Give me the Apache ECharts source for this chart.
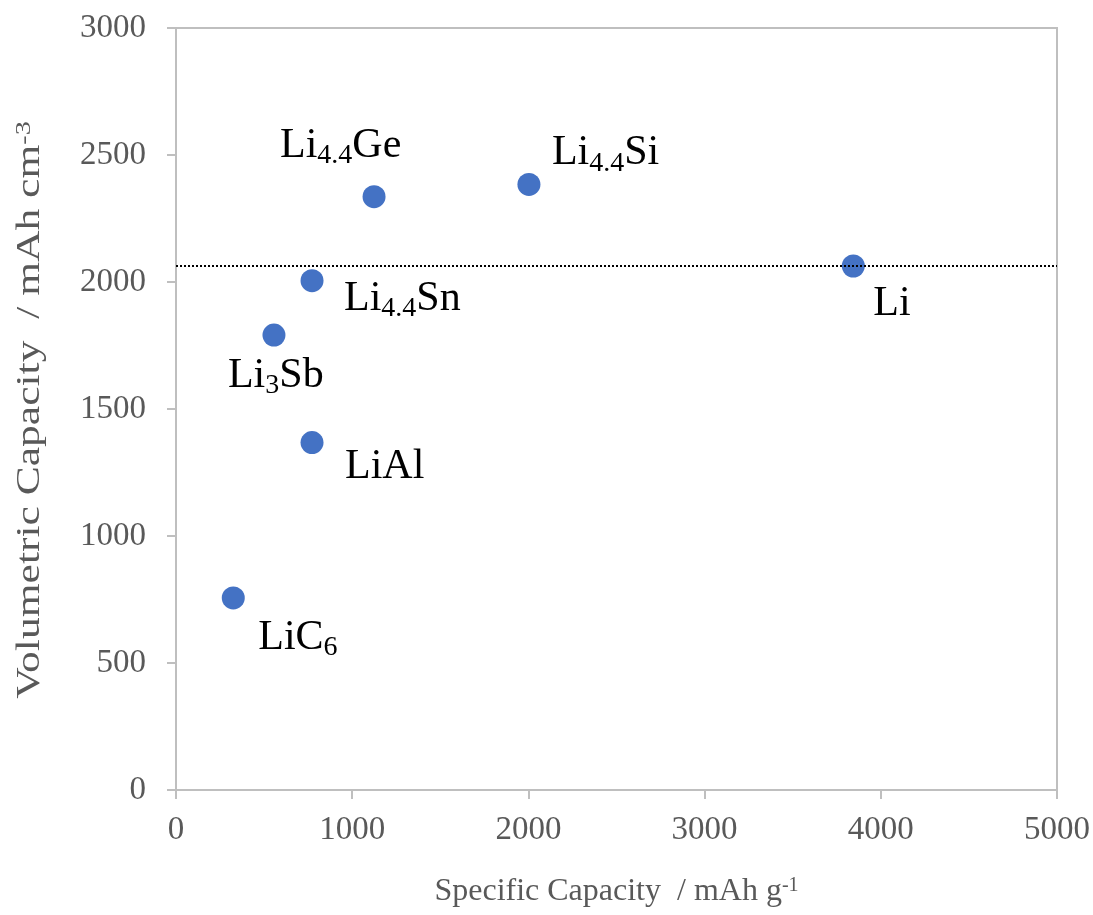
<!DOCTYPE html>
<html>
<head>
<meta charset="utf-8">
<title>Capacity of lithium anode materials</title>
<script src="https://cdn.jsdelivr.net/npm/echarts@6/dist/echarts.min.js"></script>
<style>
  html, body { margin: 0; padding: 0; background: #fff; }
  #chart { width: 1093px; height: 915px; }
</style>
</head>
<body>
<div id="chart"></div>
<script>
// Lithiated anode phases: specific (gravimetric) vs volumetric capacity
const materials = ['LiC6', 'Li3Sb', 'LiAl', 'Li4.4Sn', 'Li4.4Ge', 'Li4.4Si', 'Li'];
// Rich-text labels: {s|...} marks a subscript
const formulaLabels = ['LiC{s|6}', 'Li{s|3}Sb', 'LiAl', 'Li{s|4.4}Sn', 'Li{s|4.4}Ge', 'Li{s|4.4}Si', 'Li'];
const specificCapacity = [325, 556, 772, 772, 1124, 2003, 3844];      // mAh g-1
const volumetricCapacity = [756, 1791, 1368, 2005, 2336, 2384, 2063]; // mAh cm-3
const xTicks = { min: 0, max: 5000, step: 1000 };
const yTicks = { min: 0, max: 3000, step: 500 };
const xTitle = 'Specific Capacity  / mAh g{sup|-1}';
const yTitle = 'Volumetric Capacity  / mAh cm{sup|-3}';

// Label placement around each marker (offset of the text's left/middle from the dot centre)
const labelPlacement = {
  'LiC6':    [25, 40],
  'Li3Sb':   [-46, 41],
  'LiAl':    [33, 24],
  'Li4.4Sn': [32, 18],
  'Li4.4Ge': [-94, -51],
  'Li4.4Si': [23, -31],
  'Li':      [20, 38]
};

const serif = "'Liberation Serif', 'Times New Roman', serif";
const axisGray = '#bfbfbf';
const textGray = '#595959';

// Reference level of metallic lithium (volumetric capacity of Li)
const liLevel = volumetricCapacity[materials.indexOf('Li')];

const points = materials.map((m, i) => ({
  name: m,
  value: [specificCapacity[i], volumetricCapacity[i]],
  label: {
    formatter: formulaLabels[i],
    offset: labelPlacement[m]
  }
}));

const chart = echarts.init(document.getElementById('chart'), null, { renderer: 'canvas' });

chart.setOption({
  animation: false,
  backgroundColor: '#ffffff',
  grid: {
    left: 176, right: 36, top: 28, bottom: 125,
    show: true,
    borderColor: axisGray,
    borderWidth: 2,
    backgroundColor: 'transparent',
    containLabel: false,
    outerBoundsMode: 'none'
  },
  // Vertical axis title, drawn as free text so it can be stretched along its run
  graphic: [{
    type: 'text',
    x: 30,
    y: 410,
    rotation: Math.PI / 2,
    scaleX: 1.28,
    scaleY: 1,
    silent: true,
    style: {
      text: yTitle,
      fontFamily: serif,
      fontSize: 34,
      fill: textGray,
      align: 'center',
      verticalAlign: 'middle',
      rich: {
        sup: { fontFamily: serif, fontSize: 22, fill: textGray, verticalAlign: 'top', lineHeight: 18 }
      }
    }
  }],
  xAxis: {
    type: 'value',
    min: xTicks.min, max: xTicks.max, interval: xTicks.step,
    name: xTitle,
    nameLocation: 'middle',
    nameGap: 86,
    nameTextStyle: {
      fontFamily: serif, fontSize: 32, color: textGray,
      rich: { sup: { fontFamily: serif, fontSize: 20, color: textGray, verticalAlign: 'top', lineHeight: 16 } }
    },
    axisLine: { show: true, lineStyle: { color: axisGray, width: 2 } },
    axisTick: { show: true, inside: false, length: 9, lineStyle: { color: axisGray, width: 2 } },
    axisLabel: { margin: 24, fontFamily: serif, fontSize: 33, color: textGray, formatter: v => String(v) },
    splitLine: { show: false }
  },
  yAxis: {
    type: 'value',
    min: yTicks.min, max: yTicks.max, interval: yTicks.step,
    axisLine: { show: true, lineStyle: { color: axisGray, width: 2 } },
    axisTick: { show: true, inside: false, length: 9, lineStyle: { color: axisGray, width: 2 } },
    axisLabel: { margin: 30, fontFamily: serif, fontSize: 33, color: textGray, formatter: v => String(v) },
    splitLine: { show: false }
  },
  series: [{
    type: 'scatter',
    data: points,
    symbol: 'circle',
    symbolSize: 23,
    itemStyle: { color: '#4472c4', opacity: 1 },
    label: {
      show: true,
      position: 'inside',
      align: 'left',
      verticalAlign: 'middle',
      fontFamily: serif,
      fontSize: 42,
      lineHeight: 42,
      color: '#000',
      rich: {
        // subscript: top padding pushes the smaller digits below the baseline
        s: {
          fontFamily: serif, fontSize: 28, color: '#000',
          verticalAlign: 'middle', lineHeight: 14, padding: [20, 0, 0, 0]
        }
      }
    },
    emphasis: { disabled: true },
    markLine: {
      silent: true,
      symbol: 'none',
      label: { show: false },
      lineStyle: { color: '#000', width: 2, type: [2, 2] },
      data: [{ yAxis: liLevel }]
    },
    z: 3
  }]
});
</script>
</body>
</html>
